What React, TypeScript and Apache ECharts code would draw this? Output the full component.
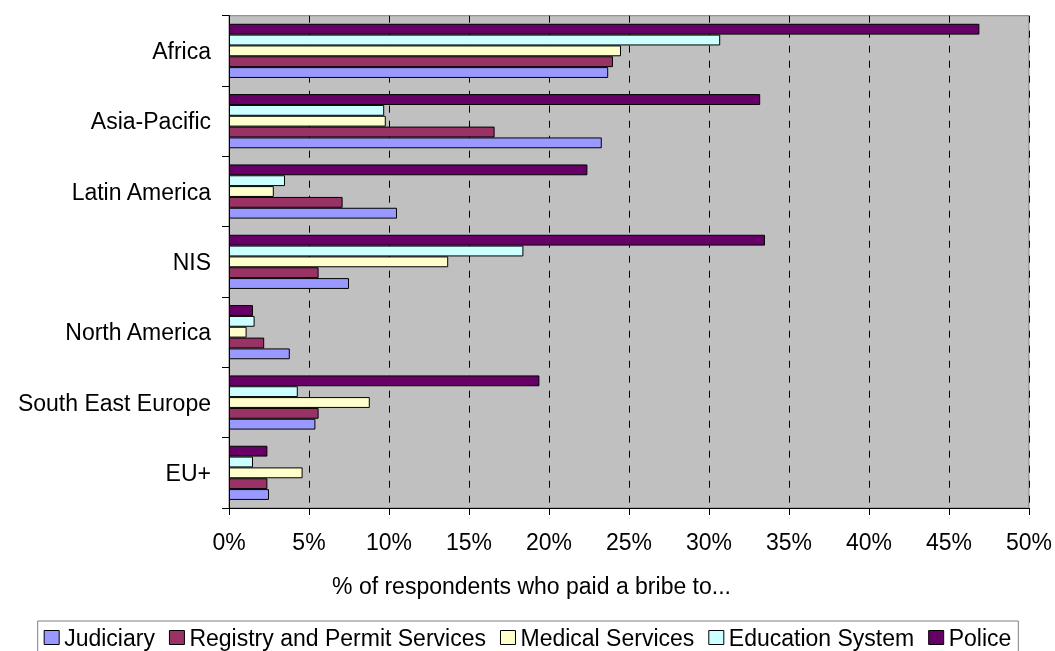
import React, { useEffect, useRef } from "react";
import * as echarts from "echarts";

const categories = ["Africa", "Asia-Pacific", "Latin America", "NIS", "North America", "South East Europe", "EU+"];
const judiciary = [23.7, 23.3, 10.5, 7.5, 3.8, 5.4, 2.5];
const registry = [24.0, 16.6, 7.1, 5.6, 2.2, 5.6, 2.4];
const medical = [24.5, 9.8, 2.8, 13.7, 1.1, 8.8, 4.6];
const education = [30.7, 9.7, 3.5, 18.4, 1.6, 4.3, 1.5];
const police = [46.9, 33.2, 22.4, 33.5, 1.5, 19.4, 2.4];
const xTicks = { min: 0, max: 50, interval: 5 };
const axisTitle = "% of respondents who paid a bribe to...";

const FONT = "'Liberation Sans', Arial, sans-serif";

export default function App() {
  const ref = useRef<HTMLDivElement>(null);
  useEffect(() => {
    if (!ref.current) return;
    const chart = echarts.init(ref.current, null, { renderer: "svg" });
    const mk = (name: string, data: number[], color: string) => ({
      name,
      type: "bar",
      data,
      barGap: "0%",
      barCategoryGap: "23%",
      itemStyle: { color, borderColor: "#000", borderWidth: 1 },
    });
    chart.setOption({
      animation: false,
      textStyle: { fontFamily: FONT },
      grid: {
        left: 229,
        right: 25.5,
        top: 15.7,
        bottom: 143,
        show: true,
        backgroundColor: "#C0C0C0",
        borderColor: "#808080",
        borderWidth: 1,
      },
      xAxis: {
        type: "value",
        min: xTicks.min,
        max: xTicks.max,
        interval: xTicks.interval,
        axisLine: { show: true, lineStyle: { color: "#000", width: 1 } },
        axisTick: { show: true, length: 7, lineStyle: { color: "#000" } },
        axisLabel: { formatter: "{value}%", fontSize: 23, color: "#000", margin: 22, fontFamily: FONT },
        splitLine: { show: true, lineStyle: { color: "#000", type: [7, 8], width: 1 } },
      },
      yAxis: {
        type: "category",
        inverse: true,
        data: categories,
        axisLine: { show: true, lineStyle: { color: "#000", width: 1 } },
        axisTick: { show: true, length: 7, lineStyle: { color: "#000" } },
        axisLabel: { fontSize: 23, color: "#000", margin: 18, fontFamily: FONT },
        splitLine: { show: false },
      },
      legend: {
        data: ["Judiciary", "Registry and Permit Services", "Medical Services", "Education System", "Police"],
        left: "center",
        top: 621,
        padding: [5, 7, 5, 6],
        borderColor: "#808080",
        borderWidth: 1,
        backgroundColor: "#fff",
        itemGap: 14,
        itemWidth: 15,
        itemHeight: 14,
        icon: "rect",
        itemStyle: { borderColor: "#000", borderWidth: 1 },
        textStyle: { fontSize: 23, color: "#000", fontFamily: FONT },
      },
      graphic: [
        {
          type: "text",
          x: 531.5,
          y: 586,
          style: {
            text: axisTitle,
            fontSize: 23,
            fontFamily: FONT,
            fill: "#000",
            textAlign: "center",
            textVerticalAlign: "middle",
          },
        },
      ],
      series: [
        mk("Police", police, "#660066"),
        mk("Education System", education, "#CCFFFF"),
        mk("Medical Services", medical, "#FFFFCC"),
        mk("Registry and Permit Services", registry, "#993366"),
        mk("Judiciary", judiciary, "#9999FF"),
      ],
    });
    return () => chart.dispose();
  }, []);
  return <div ref={ref} style={{ position: "fixed", left: 0, top: 0, width: 1055, height: 651 }} />;
}
